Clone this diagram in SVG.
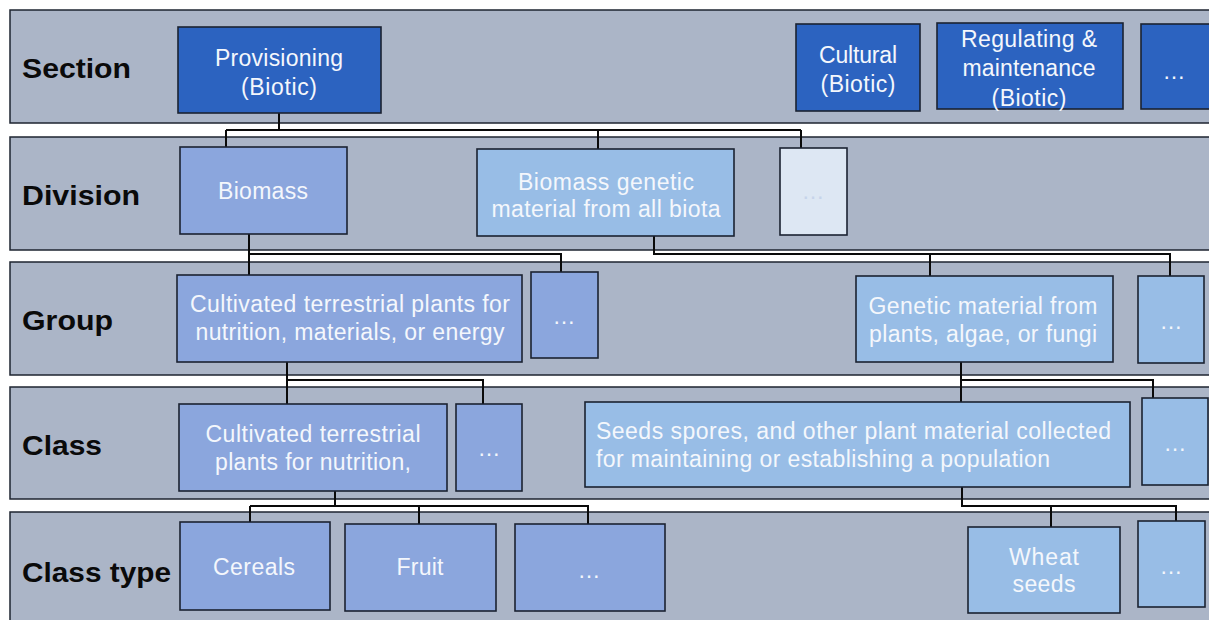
<svg xmlns="http://www.w3.org/2000/svg" width="1209" height="620" viewBox="0 0 1209 620">
<style>
.band{fill:#abb5c7;stroke:#1e2430;stroke-width:1.5}
.lbl{font-family:"Liberation Sans",Arial,sans-serif;font-weight:bold;font-size:28px;fill:#0a0a0a}
.n{stroke:#1b2231;stroke-width:1.6}
.sec{fill:#2c63c0}
.mid{fill:#8ba6dd}
.lt{fill:#98bde6}
.pale{fill:#dde7f3}
.t{font-family:"Liberation Sans",Arial,sans-serif;font-size:23px;fill:#f4f7fc;text-anchor:middle}
.tl{font-family:"Liberation Sans",Arial,sans-serif;font-size:23px;fill:#f4f7fc}
.tp{font-family:"Liberation Sans",Arial,sans-serif;font-size:23px;fill:#c6d4ea;text-anchor:middle}
.c{fill:none;stroke:#0a0a0a;stroke-width:2}
</style>
<rect width="1209" height="620" fill="#ffffff"/>
<g id="bands">
<rect class="band" x="10" y="10" width="1210" height="113"/>
<rect class="band" x="10" y="137" width="1210" height="113"/>
<rect class="band" x="10" y="262" width="1210" height="113"/>
<rect class="band" x="10" y="387" width="1210" height="112"/>
<rect class="band" x="10" y="512" width="1210" height="112"/>
<text class="lbl" x="22" y="78" textLength="109" lengthAdjust="spacingAndGlyphs">Section</text>
<text class="lbl" x="22" y="205" textLength="118" lengthAdjust="spacingAndGlyphs">Division</text>
<text class="lbl" x="22" y="330" textLength="91" lengthAdjust="spacingAndGlyphs">Group</text>
<text class="lbl" x="22" y="455" textLength="80" lengthAdjust="spacingAndGlyphs">Class</text>
<text class="lbl" x="22" y="582" textLength="149" lengthAdjust="spacingAndGlyphs">Class type</text>
</g>
<g id="connectors">
<path class="c" d="M279,113 V130 M226,130 H801 M226,130 V147 M598,130 V149 M801,130 V148"/>
<path class="c" d="M249,234 V275 M249,254 H561 V272"/>
<path class="c" d="M654,236 V254 H1170 V276 M930,254 V276"/>
<path class="c" d="M287,362 V404 M287,380 H483 V404"/>
<path class="c" d="M961,362 V402 M961,380 H1153 V398"/>
<path class="c" d="M335,491 V506 M250,506 H588 V524 M250,506 V522 M419,506 V524"/>
<path class="c" d="M962,487 V506 H1176 V521 M1051,506 V527"/>
</g>
<g id="provisioning">
<rect class="n sec" x="178" y="27" width="203" height="86"/>
<text class="t" x="279" y="66" textLength="128">Provisioning</text>
<text class="t" x="279" y="95" textLength="76">(Biotic)</text>
</g>
<g id="cultural">
<rect class="n sec" x="796" y="24" width="124" height="87"/>
<text class="t" x="858" y="63" textLength="78">Cultural</text>
<text class="t" x="858" y="92" textLength="75">(Biotic)</text>
</g>
<g id="regulating">
<rect class="n sec" x="937" y="23" width="186" height="86"/>
<text class="t" x="1029" y="47" textLength="136">Regulating &amp;</text>
<text class="t" x="1029" y="76" textLength="133">maintenance</text>
<text class="t" x="1029" y="106" textLength="75">(Biotic)</text>
</g>
<g id="section-more">
<rect class="n sec" x="1141" y="24" width="75" height="85"/>
<text class="t" x="1174" y="79">…</text>
</g>
<g id="biomass">
<rect class="n mid" x="180" y="147" width="167" height="87"/>
<text class="t" x="263" y="199" textLength="90">Biomass</text>
</g>
<g id="biomass-genetic">
<rect class="n lt" x="477" y="149" width="257" height="87"/>
<text class="t" x="606" y="190" textLength="176">Biomass genetic</text>
<text class="t" x="606" y="217" textLength="229">material from all biota</text>
</g>
<g id="division-more">
<rect class="n pale" x="780" y="148" width="67" height="87"/>
<text class="tp" x="813" y="199">…</text>
</g>
<g id="group-cultivated">
<rect class="n mid" x="177" y="275" width="345" height="87"/>
<text class="t" x="350" y="312" textLength="320">Cultivated terrestrial plants for</text>
<text class="t" x="350" y="340" textLength="309">nutrition, materials, or energy</text>
</g>
<g id="group-more-1">
<rect class="n mid" x="531" y="272" width="67" height="86"/>
<text class="t" x="564" y="324">…</text>
</g>
<g id="group-genetic">
<rect class="n lt" x="856" y="276" width="257" height="86"/>
<text class="t" x="983" y="314" textLength="229">Genetic material from</text>
<text class="t" x="983" y="342" textLength="228">plants, algae, or fungi</text>
</g>
<g id="group-more-2">
<rect class="n lt" x="1138" y="276" width="66" height="87"/>
<text class="t" x="1171" y="329">…</text>
</g>
<g id="class-cultivated">
<rect class="n mid" x="179" y="404" width="268" height="87"/>
<text class="t" x="313" y="442" textLength="215">Cultivated terrestrial</text>
<text class="t" x="313" y="470" textLength="196">plants for nutrition,</text>
</g>
<g id="class-more-1">
<rect class="n mid" x="456" y="404" width="66" height="87"/>
<text class="t" x="489" y="456">…</text>
</g>
<g id="class-seeds">
<rect class="n lt" x="585" y="402" width="545" height="85"/>
<text class="tl" x="596" y="439" textLength="515">Seeds spores, and other plant material collected</text>
<text class="tl" x="596" y="467" textLength="454">for maintaining or establishing a population</text>
</g>
<g id="class-more-2">
<rect class="n lt" x="1142" y="398" width="66" height="87"/>
<text class="t" x="1175" y="451">…</text>
</g>
<g id="cereals">
<rect class="n mid" x="180" y="522" width="150" height="88"/>
<text class="t" x="254" y="575" textLength="82">Cereals</text>
</g>
<g id="fruit">
<rect class="n mid" x="345" y="524" width="151" height="87"/>
<text class="t" x="420" y="575" textLength="47">Fruit</text>
</g>
<g id="classtype-more-1">
<rect class="n mid" x="515" y="524" width="150" height="87"/>
<text class="t" x="589" y="578">…</text>
</g>
<g id="wheat-seeds">
<rect class="n lt" x="968" y="527" width="152" height="86"/>
<text class="t" x="1044" y="565" textLength="70">Wheat</text>
<text class="t" x="1044" y="592" textLength="63">seeds</text>
</g>
<g id="classtype-more-2">
<rect class="n lt" x="1138" y="521" width="67" height="86"/>
<text class="t" x="1171" y="574">…</text>
</g>
</svg>
